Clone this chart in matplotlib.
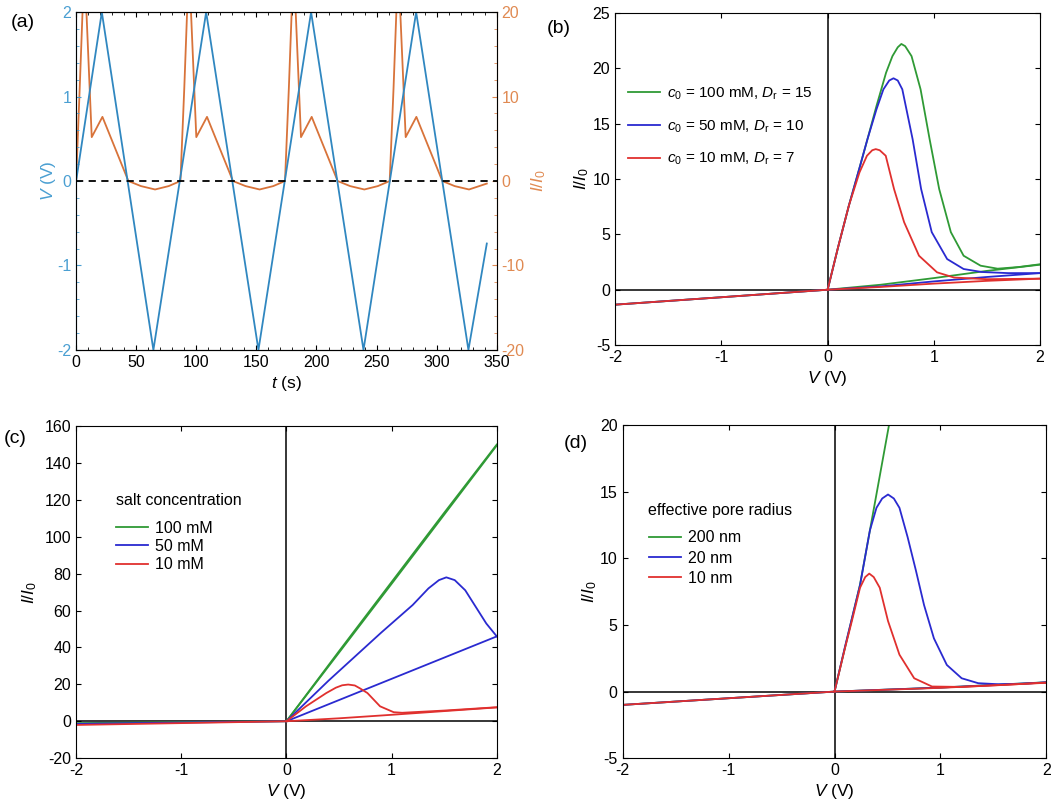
import matplotlib
matplotlib.use("Agg")
import matplotlib.pyplot as plt
from matplotlib.ticker import MultipleLocator

plt.rcParams["font.family"] = ["Liberation Sans", "DejaVu Sans"]
plt.rcParams["mathtext.fontset"] = "custom"
plt.rcParams["mathtext.rm"] = "Liberation Sans"
plt.rcParams["mathtext.it"] = "Liberation Sans:italic"
plt.rcParams["font.size"] = 11.5
plt.rcParams["axes.unicode_minus"] = False
plt.rcParams["xtick.direction"] = "in"
plt.rcParams["ytick.direction"] = "in"

TICK_FS = 11.5
LABEL_FS = 12.5
LEG_FS = 11.5

# ---- panel (a): triangular voltage sweep and current response ----
t_volt = [0, 21.4, 64.3, 108.2, 151.7, 195.5, 239.1, 282.9, 326.4, 341.7]
v_volt = [0, 2, -2, 2, -2, 2, -2, 2, -2, -0.74]

t_curr = [0, 3, 5.6, 7, 8.3, 13, 21.9, 43.5, 54, 65.7, 77, 86.8,
          90, 92.6, 94, 95.3, 100, 108.9, 130.5, 141, 152.7, 164, 173.8,
          177, 179.6, 181, 182.4, 187.1, 196, 217.6, 228, 239.8, 251, 260.9,
          264.1, 266.7, 268.1, 269.4, 274.2, 283.1, 304.7, 315, 326.9, 341.7]
i_curr = [0, 11, 21, 23, 21, 5.2, 7.6, 0, -0.6, -1.0, -0.6, 0,
          11, 21, 23, 21, 5.2, 7.6, 0, -0.6, -1.0, -0.6, 0,
          11, 21, 23, 21, 5.2, 7.6, 0, -0.6, -1.0, -0.6, 0,
          11, 21, 23, 21, 5.2, 7.6, 0, -0.6, -1.0, -0.3]

# ---- panel (b) ----
b_labels = [r"$c_0$ = 100 mM, $D_{\rm r}$ = 15",
            r"$c_0$ = 50 mM, $D_{\rm r}$ = 10",
            r"$c_0$ = 10 mM, $D_{\rm r}$ = 7"]
b_fwd_v = [
    [0, 0.1, 0.2, 0.3, 0.375, 0.46, 0.55, 0.61, 0.66, 0.694, 0.73, 0.79, 0.875,
     0.96, 1.05, 1.16, 1.28, 1.44, 1.6, 1.8, 2.0],
    [0, 0.1, 0.2, 0.3, 0.375, 0.46, 0.525, 0.58, 0.62, 0.66, 0.703, 0.8, 0.88,
     0.98, 1.125, 1.28, 1.45, 1.7, 2.0],
    [0, 0.1, 0.2, 0.3, 0.37, 0.42, 0.453, 0.49, 0.547, 0.625, 0.72, 0.86, 1.03,
     1.19, 1.5, 2.0],
]
b_fwd_i = [
    [0, 3.9, 7.6, 11.0, 13.6, 16.6, 19.6, 21.1, 21.9, 22.2, 22.0, 21.1, 18.1,
     13.6, 9.1, 5.2, 3.07, 2.17, 1.9, 2.05, 2.3],
    [0, 3.9, 7.6, 11.0, 13.6, 16.3, 18.1, 18.9, 19.1, 18.9, 18.1, 13.6, 9.1,
     5.2, 2.77, 1.87, 1.6, 1.5, 1.5],
    [0, 3.9, 7.6, 10.6, 12.1, 12.6, 12.7, 12.6, 12.1, 9.1, 6.1, 3.07, 1.57,
     1.1, 0.95, 1.0],
]
b_ret_v = [0, 0.5, 1.0, 1.5, 2.0]
b_ret_i = [[0, 0.45, 1.05, 1.7, 2.26],
           [0, 0.3, 0.75, 1.15, 1.5],
           [0, 0.25, 0.55, 0.8, 1.0]]
b_neg_v = [-2, -1, 0]
b_neg_i = [[-1.35, -0.68, 0], [-1.35, -0.68, 0], [-1.35, -0.68, 0]]

# ---- panel (c) ----
c_labels = ["100 mM", "50 mM", "10 mM"]
c_fwd_v = [
    [0, 0.5, 1.0, 1.5, 2.0],
    [0, 0.4, 0.9, 1.2, 1.35, 1.45, 1.52, 1.6, 1.7, 1.8, 1.9, 2.0],
    [0, 0.186, 0.379, 0.47, 0.53, 0.587, 0.65, 0.7, 0.77, 0.89, 1.02, 1.1, 1.5, 2.0],
]
c_fwd_i = [
    [0, 38, 75.5, 113, 150],
    [0, 22, 48, 63, 72, 76.5, 78, 76.5, 71, 62, 53, 46],
    [0, 8.1, 15.3, 18.2, 19.5, 19.9, 19.4, 17.8, 15.3, 8.1, 4.9, 4.6, 5.8, 7.6],
]
c_ret_v = [0, 0.5, 1.0, 1.5, 2.0]
c_ret_i = [[0, 37.2, 74.5, 112, 149.5],
           [0, 11.5, 23, 34.5, 46],
           [0, 1.6, 3.5, 5.5, 7.5]]
c_neg_v = [-2, 0]
c_neg_i = [[-1.0, 0], [-1.4, 0], [-2.0, 0]]

# ---- panel (d) ----
d_labels = ["200 nm", "20 nm", "10 nm"]
d_fwd_v = [
    [0, 0.24, 0.334, 0.514, 0.6],
    [0, 0.1, 0.241, 0.334, 0.396, 0.45, 0.505, 0.56, 0.613, 0.69, 0.768, 0.845,
     0.938, 1.06, 1.2, 1.356, 1.55, 1.8, 2.0],
    [0, 0.1, 0.164, 0.241, 0.29, 0.328, 0.37, 0.427, 0.505, 0.613, 0.752, 0.92,
     1.2, 1.6, 2.0],
]
d_fwd_i = [
    [0, 8.0, 12.1, 20, 23.6],
    [0, 3.4, 8.0, 12.1, 13.8, 14.5, 14.8, 14.5, 13.8, 11.6, 9.1, 6.5,
     4.0, 2.0, 1.0, 0.63, 0.55, 0.6, 0.7],
    [0, 3.3, 5.3, 7.8, 8.6, 8.86, 8.6, 7.8, 5.3, 2.77, 1.0, 0.38,
     0.35, 0.5, 0.68],
]
d_ret_v = [0, 1.0, 2.0]
d_ret_i = [[0, 0.3, 0.7], [0, 0.3, 0.68], [0, 0.28, 0.66]]
d_neg_v = [-2, 0]
d_neg_i = [[-1.0, 0], [-1.0, 0], [-1.0, 0]]

COLORS = ["#2f9a35", "#2a2ad0", "#e0302e"]
BLUE_A = "#3087c0"
ORANGE_A = "#d8733a"
BLUE_TXT = "#4a9fd2"
ORANGE_TXT = "#e08a52"

fig = plt.figure(figsize=(10.57, 8.1), dpi=100)

# panel (a)
ax_a = fig.add_axes([0.072, 0.568, 0.398, 0.417])
ax_a.plot(t_volt, v_volt, color=BLUE_A, lw=1.3)
ax_a.axhline(0, color="k", lw=1.3, ls=(0, (4, 3)))
ax_a.set_xlim(0, 350)
ax_a.set_ylim(-2, 2)
ax_a.xaxis.set_major_locator(MultipleLocator(50))
ax_a.xaxis.set_minor_locator(MultipleLocator(10))
ax_a.yaxis.set_major_locator(MultipleLocator(1))
ax_a.yaxis.set_minor_locator(MultipleLocator(0.2))
ax_a.tick_params(axis="y", which="both", colors=BLUE_TXT, labelsize=TICK_FS)
ax_a.tick_params(axis="x", top=True, which="both", labelsize=TICK_FS)
ax_a.set_xlabel(r"$t$ (s)", fontsize=LABEL_FS, labelpad=3)
ax_a.set_ylabel(r"$V$ (V)", color=BLUE_TXT, fontsize=LABEL_FS, labelpad=-1)

ax_a2 = ax_a.twinx()
ax_a2.plot(t_curr, i_curr, color=ORANGE_A, lw=1.3)
ax_a2.set_ylim(-20, 20)
ax_a2.yaxis.set_major_locator(MultipleLocator(10))
ax_a2.yaxis.set_minor_locator(MultipleLocator(2))
ax_a2.tick_params(axis="y", which="both", colors=ORANGE_TXT, labelsize=TICK_FS)
ax_a2.set_ylabel(r"$I/I_0$", color=ORANGE_TXT, fontsize=LABEL_FS, labelpad=3)
ax_a2.spines["left"].set_color(BLUE_TXT)
ax_a2.spines["right"].set_color(ORANGE_TXT)
ax_a.set_zorder(ax_a2.get_zorder() + 1)
ax_a.patch.set_visible(False)


def draw_iv(ax, fwd_v, fwd_i, ret_v, ret_i, neg_v, neg_i, labels):
    for k in range(3):
        ax.plot(ret_v, ret_i[k], color=COLORS[k], lw=1.3)
        ax.plot(neg_v, neg_i[k], color=COLORS[k], lw=1.3)
        ax.plot(fwd_v[k], fwd_i[k], color=COLORS[k], lw=1.3, label=labels[k])
    ax.axhline(0, color="k", lw=1.1, zorder=0.5)
    ax.axvline(0, color="k", lw=1.1, zorder=0.5)
    ax.set_xlim(-2, 2)
    ax.xaxis.set_major_locator(MultipleLocator(1))
    ax.tick_params(top=True, right=True, labelsize=TICK_FS)
    ax.set_xlabel(r"$V$ (V)", fontsize=LABEL_FS, labelpad=3)
    ax.set_ylabel(r"$I/I_0$", fontsize=LABEL_FS, labelpad=1)


# panel (b)
ax_b = fig.add_axes([0.582, 0.574, 0.402, 0.410])
draw_iv(ax_b, b_fwd_v, b_fwd_i, b_ret_v, b_ret_i, b_neg_v, b_neg_i, b_labels)
ax_b.set_ylim(-5, 25)
ax_b.yaxis.set_major_locator(MultipleLocator(5))
ax_b.legend(loc="upper left", bbox_to_anchor=(0.031, 0.782), frameon=False,
            fontsize=11, handlelength=2.1, handletextpad=0.45, labelspacing=1.07,
            borderpad=0, borderaxespad=0)

# panel (c)
ax_c = fig.add_axes([0.072, 0.064, 0.398, 0.410])
draw_iv(ax_c, c_fwd_v, c_fwd_i, c_ret_v, c_ret_i, c_neg_v, c_neg_i, c_labels)
ax_c.set_ylim(-20, 160)
ax_c.yaxis.set_major_locator(MultipleLocator(20))
ax_c.yaxis.labelpad = 4
ax_c.text(0.095, 0.777, "salt concentration", transform=ax_c.transAxes,
          fontsize=LEG_FS, va="center", ha="left")
ax_c.legend(loc="upper left", bbox_to_anchor=(0.095, 0.714), frameon=False,
            fontsize=LEG_FS, handlelength=2.0, handletextpad=0.45,
            labelspacing=0.19, borderpad=0, borderaxespad=0)

# panel (d)
ax_d = fig.add_axes([0.589, 0.064, 0.401, 0.411])
draw_iv(ax_d, d_fwd_v, d_fwd_i, d_ret_v, d_ret_i, d_neg_v, d_neg_i, d_labels)
ax_d.set_ylim(-5, 20)
ax_d.yaxis.set_major_locator(MultipleLocator(5))
ax_d.text(0.059, 0.745, "effective pore radius", transform=ax_d.transAxes,
          fontsize=LEG_FS, va="center", ha="left")
ax_d.legend(loc="upper left", bbox_to_anchor=(0.063, 0.685), frameon=False,
            fontsize=LEG_FS, handlelength=2.0, handletextpad=0.45,
            labelspacing=0.34, borderpad=0, borderaxespad=0)

fig.text(0.010, 0.972, "(a)", fontsize=14, va="center")
fig.text(0.517, 0.965, "(b)", fontsize=14, va="center")
fig.text(0.004, 0.459, "(c)", fontsize=14, va="center")
fig.text(0.533, 0.453, "(d)", fontsize=14, va="center")

fig.savefig("out.png", dpi=100)
